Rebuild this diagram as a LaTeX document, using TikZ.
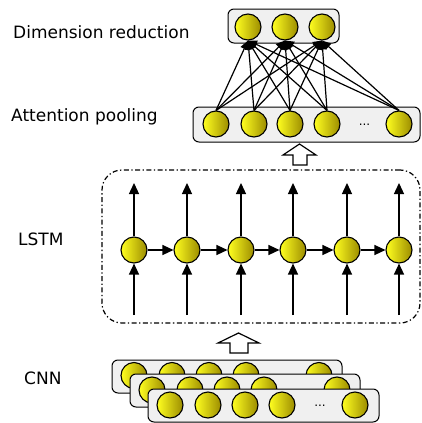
\documentclass[tikz,border=0pt]{standalone}
\usepackage{fontspec}
\setmainfont{DejaVu Sans}
\usetikzlibrary{arrows.meta}
\definecolor{boxgray}{HTML}{F0F0F0}
\definecolor{ballend}{HTML}{9C8C00}
\definecolor{ballstart}{HTML}{FFFF20}
\tikzset{
  ball/.style={circle, draw=black, line width=1.1pt, minimum size=26pt, inner sep=0pt,
    left color=ballstart, right color=ballend},
  layerbox/.style={draw=black, fill=boxgray, rounded corners=6pt, line width=1pt, inner sep=0pt},
  lab/.style={anchor=base west, inner sep=0pt, font=\fontsize{17}{20}\selectfont},
  dotslab/.style={inner sep=0pt, font=\fontsize{12}{14}\selectfont},
  conn/.style={line width=1.3pt, -{Triangle[length=11pt,width=10pt]}},
  fan/.style={line width=1.2pt, -{Triangle[length=9pt,width=8pt]}},
  blockarrow/.style={draw=black, fill=white, line width=1.2pt, line join=miter},
}
\begin{document}
\begin{tikzpicture}[x=1pt,y=-1pt]
\useasboundingbox (0,0) rectangle (421,423);

% labels
\node[lab] (ldim) at (13,38) {Dimension reduction};
\node[lab] (latt) at (11,121) {Attention pooling};
\node[lab] (llstm) at (18,245) {LSTM};
\node[lab] (lcnn) at (24,384) {CNN};

% top box
\node[layerbox, minimum width=111pt, minimum height=34pt] (topbox) at (283.5,26) {};
\foreach \x [count=\i] in {248,285,322}
  \node[ball] (t\i) at (\x,27) {};

% attention box
\node[layerbox, minimum width=227pt, minimum height=35pt] (attbox) at (306.5,124.5) {};
\foreach \x [count=\i] in {216,254,290,327,399}
  \node[ball] (a\i) at (\x,124) {};
\node[dotslab] (adots) at (364.5,125) {...};

% fan connections
\foreach \i in {1,...,5}
  \foreach \j in {1,2,3}
    \draw[fan] (a\i.north) -- (t\j.south);

% upper block arrow
\draw[blockarrow] (299.5,144) -- (316,155) -- (307,155) -- (307,165) -- (293,165) -- (293,155) -- (283,155) -- cycle;

% LSTM box
\node[draw=black, line width=1.2pt, dash pattern=on 5pt off 2.5pt on 1.3pt off 2.5pt, rounded corners=20pt, minimum width=318pt, minimum height=153pt, inner sep=0pt] (lstmbox) at (261,246.5) {};
\foreach \x [count=\i] in {134,187,241,293,347,399} {
  \node[ball] (l\i) at (\x,250) {};
  \coordinate (lo\i) at (\x,183);
  \coordinate (li\i) at (\x,315);
  \draw[conn] (l\i.north) -- (lo\i);
  \draw[conn] (li\i) -- (l\i.south);
}
\foreach \i [evaluate=\i as \j using int(\i+1)] in {1,...,5}
  \draw[conn] (l\i.east) -- (l\j.west);

% lower block arrow
\draw[blockarrow] (238.5,333) -- (259,343) -- (248,343) -- (248,353) -- (230,353) -- (230,343) -- (218,343) -- cycle;

% CNN stacked boxes
\node[layerbox, minimum width=230pt, minimum height=33pt] (c1box) at (227,376.5) {};
\foreach \dx [count=\i] in {22,60,97,134,207}
  \node[ball] (ca\i) at (112+\dx,375.5) {};
\node[layerbox, minimum width=230pt, minimum height=33pt] (c2box) at (245,390.5) {};
\foreach \dx [count=\i] in {22,60,97,134,207}
  \node[ball] (cb\i) at (130+\dx,390) {};
\node[layerbox, minimum width=231pt, minimum height=33pt] (c3box) at (263.5,405.5) {};
\foreach \dx [count=\i] in {22,60,97,134,207}
  \node[ball] (cc\i) at (148+\dx,405) {};
\node[dotslab] (cdots) at (320,406) {...};
\end{tikzpicture}
\end{document}
